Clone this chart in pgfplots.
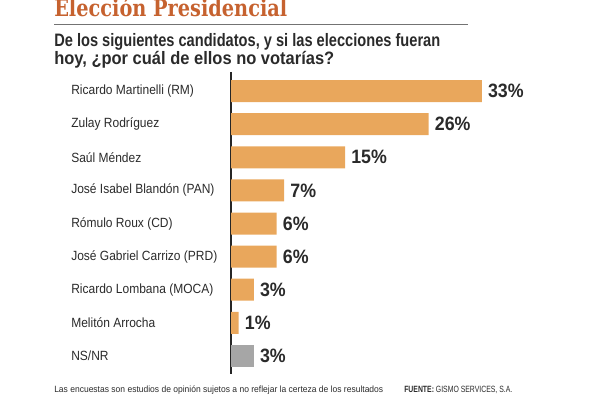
\documentclass[border=0pt]{standalone}
\usepackage{pgfplots}
\pgfplotsset{compat=1.18}
\usepackage{fontspec}
\setmainfont{Liberation Sans}
\newfontfamily\titlefont{DejaVu Serif}
\definecolor{barorange}{HTML}{E9A75C}
\definecolor{bargray}{HTML}{A6A6A6}
\definecolor{titlecol}{HTML}{C6622F}
\definecolor{txt}{HTML}{2A2A2A}
\newcommand\cond[1]{\scalebox{0.9}[1]{#1}}
\begin{document}
\begin{tikzpicture}
\useasboundingbox (0pt,0pt) rectangle (443.25pt,-295.5pt);
\begin{scope}[x=0.75pt,y=-0.75pt]
% title
\node[anchor=base west,inner sep=0,text=titlecol] at (54,16)
  {\resizebox{174.75pt}{\height}{\titlefont\bfseries\fontsize{17.5pt}{17.5pt}\selectfont Elección Presidencial}};
\draw[black!55,line width=0.6pt] (54,24) -- (468,24);
% subtitle
\node[anchor=base west,inner sep=0,text=txt] at (54,46.5)
  {\resizebox{289.5pt}{\height}{\bfseries\fontsize{13.5pt}{13.5pt}\selectfont De los siguientes candidatos, y si las elecciones fueran}};
\node[anchor=base west,inner sep=0,text=txt] at (54,64)
  {\resizebox{210pt}{\height}{\bfseries\fontsize{13.5pt}{13.5pt}\selectfont hoy, ¿por cuál de ellos no votarías?}};
% footer
\node[anchor=base west,inner sep=0,text=txt] at (54,392)
  {\resizebox{246.75pt}{\height}{\fontsize{6.8pt}{6.8pt}\selectfont Las encuestas son estudios de opinión sujetos a no reflejar la certeza de los resultados}};
\node[anchor=base west,inner sep=0,text=txt] at (404,392)
  {\resizebox{81pt}{\height}{\fontsize{6.8pt}{6.8pt}\selectfont\textbf{FUENTE:} GISMO SERVICES, S.A.}};
\end{scope}
\begin{axis}[
  at={(173.25pt,-55.875pt)}, anchor=north west,
  scale only axis, width=228pt, height=223.5pt,
  xmin=0, xmax=40, ymin=-0.5, ymax=8.5, y dir=reverse,
  enlargelimits=false, clip=false,
  xbar, bar width=16.5pt,
  axis x line=none, axis y line*=left,
  y axis line style={draw=black!85,line width=0.8pt,-,shorten <=-2pt,shorten >=-1pt},
  ytick={0,...,8}, major tick length=0pt,
  yticklabels={\cond{Ricardo Martinelli (RM)},\cond{Zulay Rodríguez},\cond{Saúl Méndez},\cond{José Isabel Blandón (PAN)},\cond{Rómulo Roux (CD)},\cond{José Gabriel Carrizo (PRD)},\cond{Ricardo Lombana (MOCA)},\cond{Melitón Arrocha},\cond{NS/NR}},
  yticklabel style={anchor=west, xshift=-120pt, inner sep=0pt, text=txt, font=\fontsize{10pt}{10pt}\selectfont},
  point meta=x,
  /pgf/number format/assume math mode=true,
  nodes near coords={\scalebox{0.92}[1]{\pgfmathprintnumber{\pgfplotspointmeta}\%}},
  nodes near coords style={anchor=west, xshift=4.5pt, inner sep=0pt, text=txt, font=\bfseries\fontsize{14.5pt}{14.5pt}\selectfont},
]
\addplot[fill=barorange, draw=none, bar shift=0pt] coordinates {
(33,0) (26,1) (15,2) (7,3) (6,4) (6,5) (3,6) (1,7)};
\addplot[fill=bargray, draw=none, bar shift=0pt] coordinates {(3,8)};
\end{axis}
\end{tikzpicture}
\end{document}
